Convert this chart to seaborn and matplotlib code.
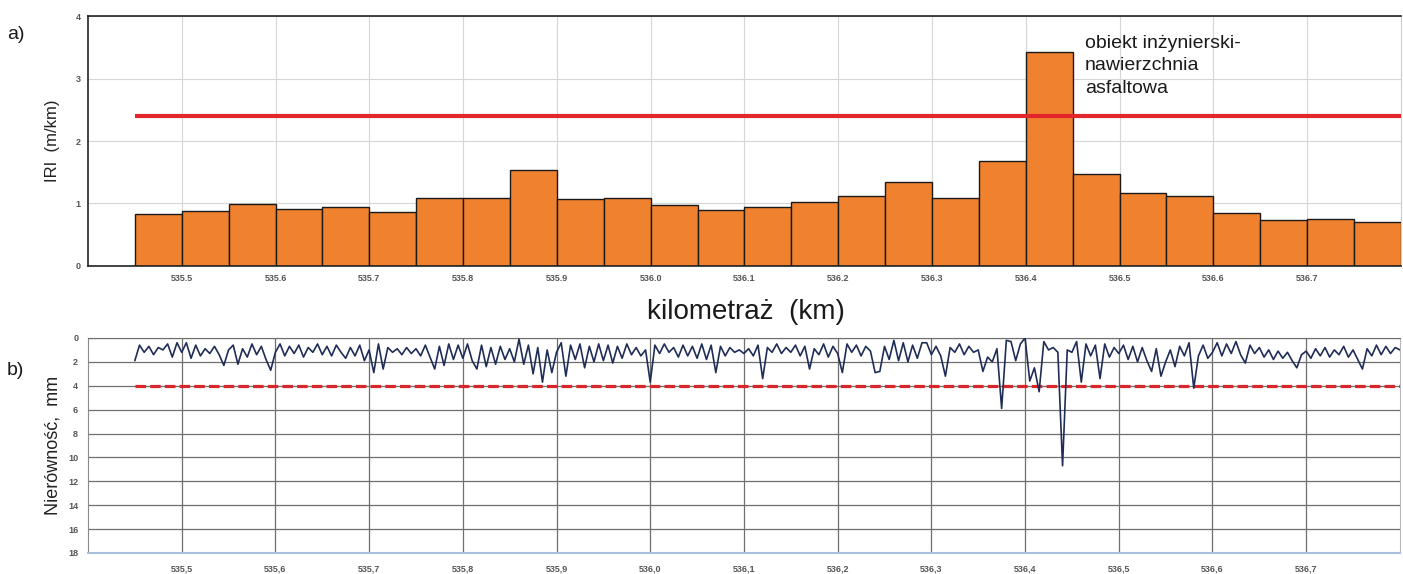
"""
Profil równości nawierzchni: a) IRI na odcinkach 50 m, b) nierówności podłużne.
"""

import numpy as np
import pandas as pd
import matplotlib
matplotlib.use('Agg')
import matplotlib.pyplot as plt
from matplotlib.ticker import MultipleLocator
import seaborn as sns


sns.set_style('white')
plt.rcParams['font.family'] = ['Liberation Sans', 'DejaVu Sans']

# a) IRI dla odcinków 50 m
odcinek_start = 535.45
odcinek_dl = 0.05
iri = [0.835, 0.88, 0.995, 0.905, 0.94, 0.87, 1.085, 1.085, 1.54, 1.07,
       1.085, 0.97, 0.89, 0.95, 1.02, 1.12, 1.35, 1.085, 1.675, 3.43,
       1.47, 1.17, 1.12, 0.85, 0.73, 0.745, 0.70]
iri_limit = 2.4

# b) nierówności podłużne, co 5 m
pomiar_krok = 0.005
nierownosc = [
    1.9, 0.6, 1.2, 0.7, 1.4, 0.8, 1.0, 0.5, 1.6, 0.4,
    1.2, 0.4, 1.7, 0.6, 1.5, 0.9, 1.3, 0.7, 1.4, 2.3,
    1.0, 0.6, 2.2, 0.9, 1.6, 0.5, 1.4, 0.7, 1.8, 2.7,
    1.2, 0.5, 1.5, 0.7, 1.3, 0.6, 1.6, 0.8, 1.2, 0.5,
    1.4, 0.7, 1.5, 0.6, 1.2, 1.7, 0.8, 1.5, 0.6, 1.9,
    1.0, 2.9, 0.5, 2.6, 0.8, 1.2, 0.9, 1.4, 0.8, 1.3,
    0.9, 1.5, 0.6, 1.6, 2.6, 0.7, 2.3, 0.5, 1.8, 0.6,
    1.7, 0.5, 1.9, 2.6, 0.6, 2.4, 0.8, 2.2, 0.7, 1.8,
    0.9, 2.0, 0.1, 2.2, 0.6, 3.0, 0.8, 3.7, 1.0, 2.9,
    1.2, 0.4, 3.2, 0.6, 1.8, 0.5, 2.5, 0.7, 2.0, 0.5,
    1.9, 0.6, 2.1, 0.7, 1.7, 0.5, 1.4, 0.8, 1.5, 1.0,
    3.7, 0.6, 1.3, 0.5, 1.2, 0.8, 1.6, 0.6, 1.5, 0.7,
    1.7, 0.5, 1.8, 0.6, 2.9, 0.7, 1.5, 0.8, 1.2, 1.0,
    1.3, 0.9, 1.5, 0.6, 3.4, 0.8, 1.2, 0.5, 1.3, 0.8,
    1.2, 0.6, 1.5, 0.7, 2.6, 0.9, 1.4, 0.5, 1.6, 0.7,
    1.3, 2.9, 0.5, 1.2, 0.6, 1.5, 0.7, 1.1, 2.9, 2.8,
    0.7, 1.8, 0.2, 1.9, 0.4, 2.0, 0.6, 1.7, 0.4, 0.4,
    1.4, 0.7, 1.5, 3.2, 0.8, 1.2, 0.5, 1.4, 0.7, 1.2,
    1.0, 2.8, 1.6, 2.0, 0.9, 5.9, 0.2, 0.3, 1.9, 0.5,
    0.0, 3.6, 2.5, 4.5, 0.3, 1.0, 0.8, 1.2, 10.7, 1.0,
    1.2, 0.3, 3.7, 0.5, 1.5, 0.6, 3.4, 0.5, 1.6, 0.8,
    1.3, 0.6, 1.8, 0.7, 2.0, 0.8, 1.9, 2.8, 0.9, 3.2,
    2.0, 1.0, 2.4, 0.7, 1.5, 0.4, 4.2, 1.5, 0.6, 1.7,
    1.2, 0.4, 1.5, 0.5, 1.3, 0.3, 1.4, 2.1, 0.6, 1.3,
    0.8, 1.6, 1.0, 1.8, 1.1, 1.7, 1.2, 1.9, 2.5, 1.4,
    1.1, 1.7, 0.9, 1.5, 0.8, 1.6, 1.0, 1.4, 0.7, 1.6,
    1.0, 1.8, 2.6, 0.9, 1.5, 0.6, 1.4, 0.7, 1.3, 0.8,
    1.0,
]
nierownosc_limit = 4.0

km_ticks = [535.5, 535.6, 535.7, 535.8, 535.9, 536.0,
            536.1, 536.2, 536.3, 536.4, 536.5, 536.6, 536.7]
km_labels_a = ['535.5', '535.6', '535.7', '535.8', '535.9', '536.0',
               '536.1', '536.2', '536.3', '536.4', '536.5', '536.6', '536.7']
km_labels_b = [s.replace('.', ',') for s in km_labels_a]

x_range = (535.4, 536.8)
tick_kw = dict(labelsize=6.5, labelcolor='#555555', colors='#555555')

fig = plt.figure(figsize=(14.03, 5.74), dpi=100)
ax1 = fig.add_axes([0.0627, 0.5366, 0.9358, 0.4355])
ax2 = fig.add_axes([0.0627, 0.0366, 0.9351, 0.3746])

# ---- a) histogram IRI ----
edges = [round(odcinek_start + odcinek_dl * i, 3) for i in range(len(iri) + 1)]
df_iri = pd.DataFrame({
    'km': [(a + b) / 2 for a, b in zip(edges[:-1], edges[1:])],
    'iri': iri,
})
sns.histplot(data=df_iri, x='km', weights='iri', bins=edges, ax=ax1,
             color='#f0812e', edgecolor='#1a1a1a', linewidth=1.0, alpha=1)
ax1.hlines(iri_limit, edges[0], edges[-1], color='#e3262b', linewidth=3, zorder=4)

ax1.set_xlim(*x_range)
ax1.set_ylim(0, 4)
ax1.set_xticks(km_ticks)
ax1.set_xticklabels(km_labels_a, fontweight='bold')
ax1.yaxis.set_major_locator(MultipleLocator(1))
ax1.yaxis.set_minor_locator(MultipleLocator(0.5))
for lab in ax1.get_yticklabels():
    lab.set_fontweight('bold')
ax1.tick_params(axis='x', length=0, pad=6, **tick_kw)
ax1.tick_params(axis='y', which='both', length=3, width=0.8, pad=2, **tick_kw)
ax1.grid(True, color='#d6d6d6', linewidth=0.8)
ax1.set_axisbelow(True)
for side in ['top', 'left', 'bottom']:
    ax1.spines[side].set_color('#222222')
    ax1.spines[side].set_linewidth(1.2)
ax1.spines['right'].set_color('#cccccc')

ax1.set_xlabel('')
ax1.set_ylabel('IRI  (m/km)', fontsize=12, color='#222222')
ax1.yaxis.set_label_coords(-0.021, 0.5)

ax1.text(536.463, 3.70, 'obiekt inżynierski-\nnawierzchnia\nasfaltowa',
         fontsize=14, color='#1a1a1a', va='top', ha='left', linespacing=1.42)

# ---- b) nierówności ----
df_nier = pd.DataFrame({
    'km': odcinek_start + pomiar_krok * np.arange(len(nierownosc)),
    'mm': nierownosc,
})
sns.lineplot(data=df_nier, x='km', y='mm', ax=ax2, color='#1f2d57',
             linewidth=1.2, zorder=4)
ax2.plot([odcinek_start, x_range[1]], [nierownosc_limit, nierownosc_limit],
         color='#d9262b', linewidth=2.3, linestyle=(0, (3.3, 1.3)), zorder=3)

ax2.set_xlim(*x_range)
ax2.set_ylim(18, 0)
ax2.set_yticks(np.arange(0, 19, 2))
ax2.set_xticks(km_ticks)
ax2.set_xticklabels(km_labels_b, fontweight='bold')
for lab in ax2.get_yticklabels():
    lab.set_fontweight('bold')
ax2.tick_params(axis='x', length=0, pad=8, **tick_kw)
ax2.tick_params(axis='y', length=4, width=0.8, pad=3, **tick_kw)
ax2.grid(True, color='#6f6f6f', linewidth=0.9)
ax2.set_axisbelow(True)
ax2.spines['bottom'].set_color('#a9c1dd')
ax2.spines['bottom'].set_linewidth(1.5)
ax2.spines['top'].set_color('#6f6f6f')
ax2.spines['left'].set_color('#8a8a8a')
ax2.spines['right'].set_color('#b8b8b8')

ax2.set_xlabel('')
ax2.set_ylabel('Nierówność,  mm', fontsize=13, color='#222222')
ax2.yaxis.set_label_coords(-0.02, 0.5)

fig.text(0.532, 0.456, 'kilometraż  (km)', fontsize=20, color='#1a1a1a',
         ha='center', va='center')
fig.text(0.005, 0.94, 'a)', fontsize=14, color='#1a1a1a', va='center')
fig.text(0.005, 0.355, 'b)', fontsize=14, color='#1a1a1a', va='center')

fig.savefig('out.png', dpi=100)
